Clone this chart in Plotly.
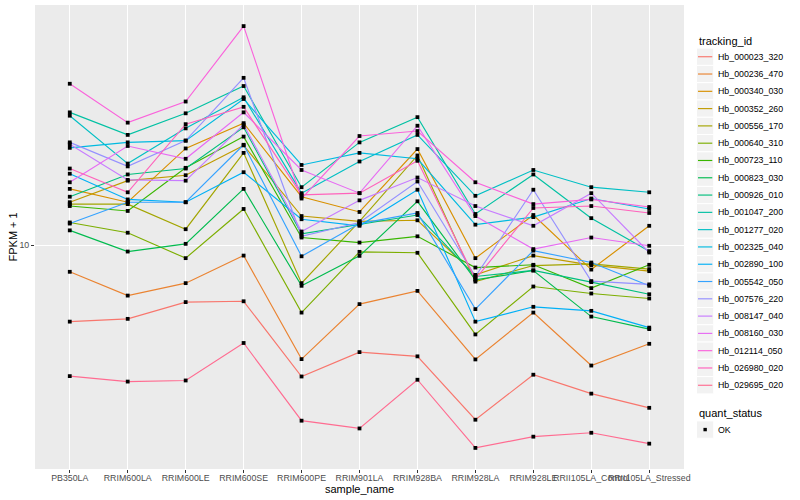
import numpy as np
import plotly.graph_objects as go

# ---------------- data ----------------
samples = ["PB350LA", "RRIM600LA", "RRIM600LE", "RRIM600SE", "RRIM600PE",
           "RRIM901LA", "RRIM928BA", "RRIM928LA", "RRIM928LE",
           "RRII105LA_Control", "RRII105LA_Stressed"]

tracking_ids = ["Hb_000023_320", "Hb_000236_470", "Hb_000340_030", "Hb_000352_260",
                "Hb_000556_170", "Hb_000640_310", "Hb_000723_110", "Hb_000823_030",
                "Hb_000926_010", "Hb_001047_200", "Hb_001277_020", "Hb_002325_040",
                "Hb_002890_100", "Hb_005542_050", "Hb_007576_220", "Hb_008147_040",
                "Hb_008160_030", "Hb_012114_050", "Hb_026980_020", "Hb_029695_020"]

colors = ["#F8766D", "#EA8331", "#D89000", "#C09B00", "#A3A500", "#7CAE00", "#39B600",
          "#00BB4E", "#00BF7D", "#00C1A3", "#00BFC4", "#00BAE0", "#00B0F6", "#35A2FF",
          "#9590FF", "#C77CFF", "#E76BF3", "#FA62DB", "#FF62BC", "#FF6C91"]

# FPKM + 1 per sample (same order as samples)
hb_000023_320 = [5.56, 5.68, 6.46, 6.50, 3.65, 4.40, 4.26, 2.62, 3.70, 3.20, 2.87]
hb_000236_470 = [8.15, 6.79, 7.47, 9.23, 4.17, 6.36, 7.04, 4.16, 5.96, 3.97, 4.69]
hb_000340_030 = [15.4, 13.9, 21.0, 25.5, 14.5, 12.9, 20.9, 9.05, 12.6, 8.29, 11.6]
hb_000352_260 = [13.9, 16.4, 17.1, 21.5, 12.5, 12.0, 12.1, 7.96, 9.23, 8.58, 8.19]
hb_000556_170 = [13.7, 13.7, 11.3, 20.3, 7.47, 12.0, 19.9, 7.56, 8.55, 8.66, 8.32]
hb_000640_310 = [11.9, 11.0, 9.05, 13.2, 5.96, 9.50, 9.43, 5.04, 7.28, 6.90, 6.64]
hb_000723_110 = [13.5, 13.0, 18.1, 23.0, 10.6, 10.2, 10.7, 8.42, 8.60, 7.19, 8.60]
hb_000823_030 = [11.2, 9.52, 10.1, 15.4, 7.32, 9.21, 14.0, 7.66, 8.23, 5.78, 5.25]
hb_000926_010 = [14.5, 17.2, 18.0, 24.7, 10.9, 11.7, 12.6, 7.86, 8.24, 7.53, 6.86]
hb_001047_200 = [27.7, 23.3, 27.5, 33.9, 15.6, 22.0, 26.7, 12.7, 17.2, 12.3, 9.55]
hb_001277_020 = [27.0, 18.7, 24.5, 31.1, 14.9, 19.0, 23.3, 14.6, 17.8, 15.6, 15.0]
hb_002325_040 = [21.1, 22.0, 22.3, 30.7, 18.5, 20.3, 19.4, 11.7, 12.4, 14.3, 13.2]
hb_002890_100 = [17.3, 14.2, 13.9, 17.5, 12.2, 11.6, 15.3, 5.56, 6.23, 6.04, 5.31]
hb_005542_050 = [11.8, 13.9, 13.9, 21.6, 9.18, 11.8, 12.8, 6.12, 9.59, 8.75, 7.32]
hb_007576_220 = [22.0, 18.3, 22.3, 36.1, 10.7, 11.9, 16.3, 7.86, 15.3, 7.59, 7.40]
hb_008147_040 = [21.7, 16.5, 16.4, 25.2, 11.1, 14.1, 16.8, 13.5, 11.6, 14.9, 9.45]
hb_008160_030 = [16.2, 21.4, 19.4, 27.7, 17.8, 14.9, 25.0, 12.5, 9.70, 10.6, 9.95]
hb_012114_050 = [34.5, 25.6, 30.1, 53.7, 14.3, 23.1, 24.0, 16.2, 13.7, 14.2, 13.4]
hb_026980_020 = [18.0, 15.0, 25.3, 28.9, 14.7, 14.9, 19.1, 7.70, 13.3, 13.5, 12.8]
hb_029695_020 = [3.66, 3.51, 3.54, 4.72, 2.60, 2.45, 3.56, 2.11, 2.30, 2.37, 2.18]

series_values = [hb_000023_320, hb_000236_470, hb_000340_030, hb_000352_260,
                 hb_000556_170, hb_000640_310, hb_000723_110, hb_000823_030,
                 hb_000926_010, hb_001047_200, hb_001277_020, hb_002325_040,
                 hb_002890_100, hb_005542_050, hb_007576_220, hb_008147_040,
                 hb_008160_030, hb_012114_050, hb_026980_020, hb_029695_020]

quant_status = "OK"
y_tick_vals = [10]
y_tick_text = ["10"]

# ---------------- layout geometry ----------------
W, H = 800, 500
PL, PR, PT, PB = 35, 684, 5, 468.7
FONT = "Liberation Sans, Arial, Helvetica, sans-serif"


def px2x(px):
    return (px - PL) / (PR - PL)


def py2y(py):
    return (PB - py) / (PB - PT)


fig = go.Figure()

for name, col, vals in zip(tracking_ids, colors, series_values):
    fig.add_trace(go.Scatter(x=samples, y=vals, mode="lines", name=name,
                             line=dict(color=col, width=1.15), showlegend=False,
                             hoverinfo="x+y+name"))

all_x, all_y = [], []
for vals in series_values:
    all_x += samples
    all_y += vals
fig.add_trace(go.Scatter(x=all_x, y=all_y, mode="markers", name=quant_status,
                         marker=dict(symbol="square", size=3.8, color="black"),
                         showlegend=False))

logs = np.log10(np.array(all_y))
lo, hi = logs.min(), logs.max()
pad = 0.05 * (hi - lo)

fig.update_layout(
    width=W, height=H,
    margin=dict(l=PL, r=W - PR, t=PT, b=H - PB, autoexpand=False),
    paper_bgcolor="white", plot_bgcolor="#EBEBEB",
    font=dict(family=FONT, size=9, color="#4D4D4D"),
    showlegend=False,
)
fig.update_xaxes(type="category", categoryorder="array", categoryarray=samples,
                 range=[-0.6, len(samples) - 1 + 0.6],
                 showgrid=True, gridcolor="white", gridwidth=1.1,
                 ticks="outside", ticklen=3, tickcolor="#333333", tickwidth=1,
                 tickangle=0, tickfont=dict(size=8.8, color="#4D4D4D"),
                 ticklabelstandoff=-3,
                 showline=False, zeroline=False, automargin=False)
fig.update_yaxes(type="log", range=[lo - pad, hi + pad],
                 tickvals=y_tick_vals, ticktext=y_tick_text,
                 showgrid=True, gridcolor="white", gridwidth=1.1,
                 ticks="outside", ticklen=3, tickcolor="#333333", tickwidth=1,
                 tickfont=dict(size=8.8, color="#4D4D4D"),
                 showline=False, zeroline=False, automargin=False)

annotations = [
    dict(text="sample_name", x=0.5, y=py2y(488.5), xref="paper", yref="paper",
         showarrow=False, xanchor="center", yanchor="middle",
         font=dict(size=11, color="black", family=FONT)),
    dict(text="FPKM + 1", x=px2x(12.5), y=0.5, xref="paper", yref="paper",
         showarrow=False, xanchor="center", yanchor="middle", textangle=-90,
         font=dict(size=11, color="black", family=FONT)),
    dict(text="tracking_id", x=px2x(696.5), y=py2y(40.5), xref="paper", yref="paper",
         showarrow=False, xanchor="left", yanchor="middle",
         font=dict(size=11, color="black", family=FONT)),
    dict(text="quant_status", x=px2x(696.5), y=py2y(412.7), xref="paper", yref="paper",
         showarrow=False, xanchor="left", yanchor="middle",
         font=dict(size=11, color="black", family=FONT)),
]
shapes = []

KEY = 17.28
KX0 = 696.5
first_cy = 56.7
for i, (name, col) in enumerate(zip(tracking_ids, colors)):
    cy = first_cy + i * KEY
    shapes.append(dict(type="rect", xref="paper", yref="paper",
                       x0=px2x(KX0), x1=px2x(KX0 + KEY),
                       y0=py2y(cy - KEY / 2), y1=py2y(cy + KEY / 2),
                       fillcolor="#F2F2F2", line=dict(color="white", width=1)))
    shapes.append(dict(type="line", xref="paper", yref="paper",
                       x0=px2x(KX0 + 1.5), x1=px2x(KX0 + KEY - 1.5),
                       y0=py2y(cy), y1=py2y(cy),
                       line=dict(color=col, width=1.15)))
    annotations.append(dict(text=name, x=px2x(716), y=py2y(cy), xref="paper", yref="paper",
                            showarrow=False, xanchor="left", yanchor="middle",
                            font=dict(size=8.8, color="black", family=FONT)))

ok_cy = 429.3
shapes.append(dict(type="rect", xref="paper", yref="paper",
                   x0=px2x(KX0), x1=px2x(KX0 + KEY),
                   y0=py2y(ok_cy - KEY / 2), y1=py2y(ok_cy + KEY / 2),
                   fillcolor="#F2F2F2", line=dict(color="white", width=1)))
cx = KX0 + KEY / 2
shapes.append(dict(type="rect", xref="paper", yref="paper",
                   x0=px2x(cx - 1.7), x1=px2x(cx + 1.7),
                   y0=py2y(ok_cy - 1.7), y1=py2y(ok_cy + 1.7),
                   fillcolor="black", line=dict(width=0)))
annotations.append(dict(text=quant_status, x=px2x(716), y=py2y(ok_cy), xref="paper", yref="paper",
                        showarrow=False, xanchor="left", yanchor="middle",
                        font=dict(size=8.8, color="black", family=FONT)))

fig.update_layout(annotations=annotations, shapes=shapes)

fig.write_html("out.html", config={"displayModeBar": False},
               post_script="document.body.style.margin='0px';document.body.style.padding='0px';")
